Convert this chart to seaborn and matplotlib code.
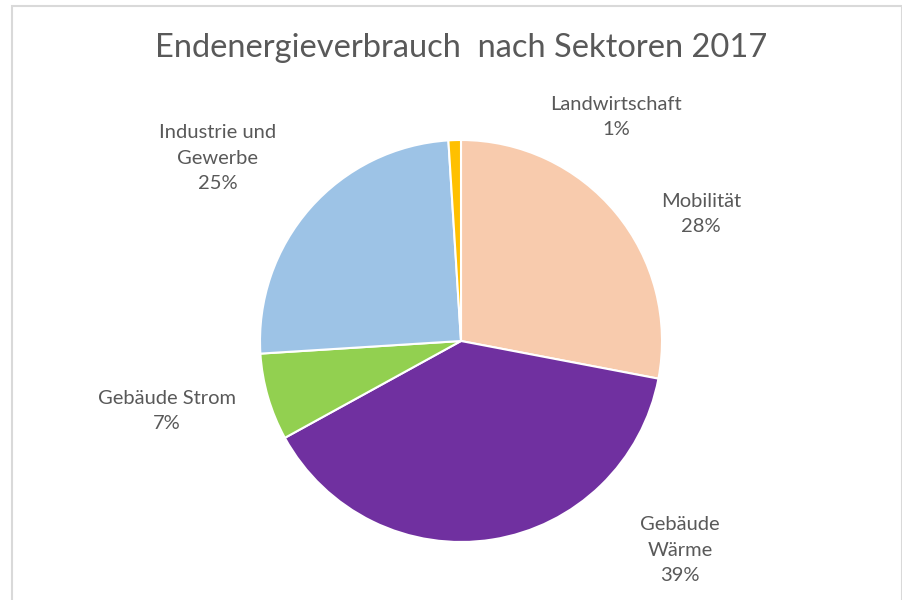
import matplotlib
matplotlib.use("Agg")
import matplotlib.pyplot as plt
import seaborn as sns
import numpy as np

# Final energy consumption by sector, 2017 (percent)
sectors = ["Mobilität", "Gebäude\nWärme", "Gebäude Strom", "Industrie und\nGewerbe", "Landwirtschaft"]
shares = [28, 39, 7, 25, 1]
colors = ["#F8CBAD", "#7030A0", "#92D050", "#9DC3E6", "#FFC000"]

sns.set_theme(style="white")
plt.rcParams["font.family"] = ["Lato", "DejaVu Sans"]

fig = plt.figure(figsize=(9.03, 6.0), dpi=100)
fig.patch.set_facecolor("white")

# light frame around the chart area
frame = plt.Rectangle((12 / 903, -0.01), (902 - 12) / 903, (600 - 5.5) / 600 + 0.01,
                      transform=fig.transFigure, fill=False,
                      edgecolor="#D9D9D9", linewidth=1.5)
fig.add_artist(frame)

# axes sized so the unit circle of the pie spans ~402 px
cx, cy, r = 461, 341, 201
ax = fig.add_axes([(cx - r) / 903, (600 - cy - r) / 600, 2 * r / 903, 2 * r / 600])

wedges, _ = ax.pie(shares, colors=colors, startangle=90, counterclock=False,
                   radius=1.0, wedgeprops=dict(edgecolor="white", linewidth=1.5))
for w in wedges:
    w.set_clip_on(False)
ax.set_xlim(-1, 1)
ax.set_ylim(-1, 1)
ax.set_aspect("equal")
ax.axis("off")

# label anchor positions (pixels: center x, top-line center y)
label_px = [(701, 200), (680, 522), (167, 397), (218, 130), (616, 103)]
text_color = "#595959"
for name, val, (px, py) in zip(sectors, shares, label_px):
    txt = f"{name}\n{val}%"
    nlines = txt.count("\n") + 1
    # center of the text block in pixels
    block_cy = py + (nlines - 1) * 28 / 2
    fig.text(px / 903, 1 - block_cy / 600, txt, ha="center", va="center",
             fontsize=14.5, color=text_color, linespacing=1.62)

fig.text(461 / 903, 1 - 48 / 600, "Endenergieverbrauch  nach Sektoren 2017",
         ha="center", va="center", fontsize=23.5, color=text_color)

fig.savefig("out.png", dpi=100, facecolor="white")
